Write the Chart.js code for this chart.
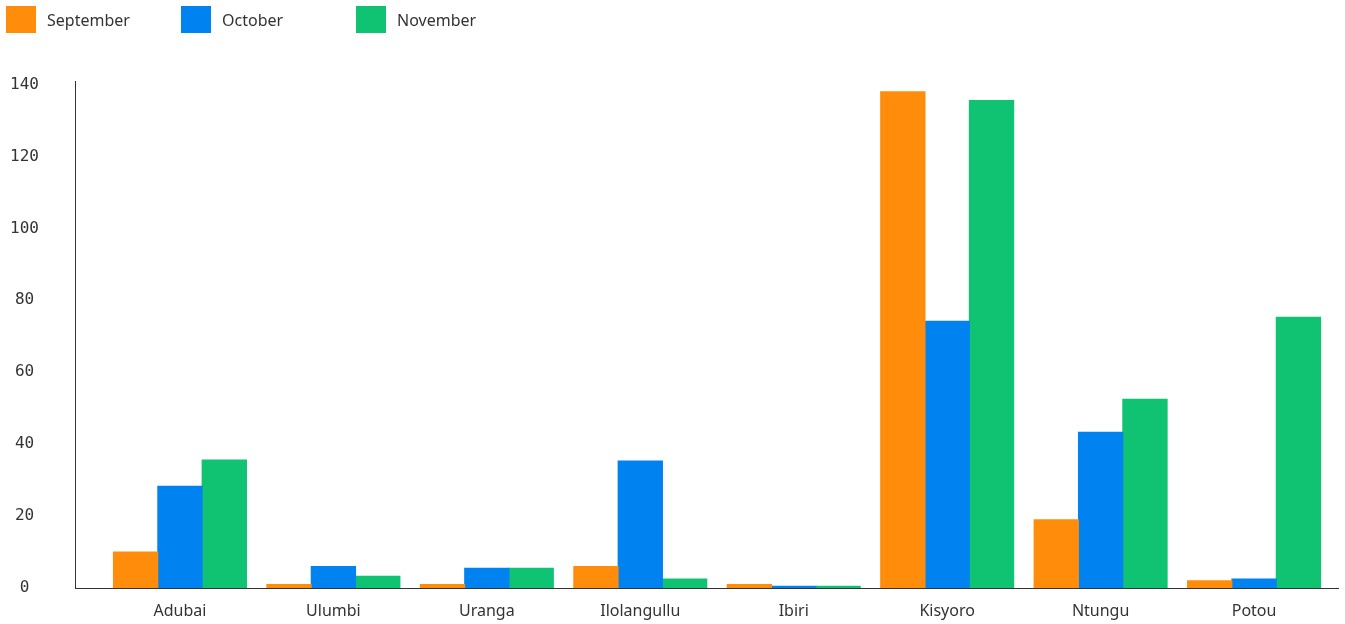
<!DOCTYPE html>
<html lang="en">
  <head>
    <meta charset="UTF-8" />
    <title>Monthly totals by site</title>
    <script src="https://cdn.jsdelivr.net/npm/chart.js"></script>
    <style>
      html, body {
        margin: 0;
        padding: 0;
        background: #fff;
        overflow: hidden;
      }
      .wrap {
        position: relative;
        width: 1345px;
        height: 624px;
      }
      canvas {
        display: block;
      }
      #legend {
        position: absolute;
        top: 6px;
        left: 6px;
        display: flex;
        font-family: "Noto Sans", sans-serif;
        font-size: 16px;
        color: #333;
      }
      .item {
        display: flex;
        align-items: center;
        width: 175px;
      }
      .swatch {
        width: 30px;
        height: 27px;
        margin-right: 11px;
      }
    </style>
  </head>
  <body>
    <div class="wrap">
      <canvas id="chart" width="1345" height="624"></canvas>
      <div id="legend"></div>
    </div>

    <script>
      const sites = ["Adubai", "Ulumbi", "Uranga", "Ilolangullu", "Ibiri", "Kisyoro", "Ntungu", "Potou"];
      const september = [10, 1, 1, 6, 1, 138, 19, 2];
      const october = [28.3, 6, 5.5, 35.3, 0.5, 74.2, 43.3, 2.5];
      const november = [35.6, 3.3, 5.5, 2.5, 0.5, 135.6, 52.5, 75.3];
      const yTicks = [0, 20, 40, 60, 80, 100, 120, 140];

      const series = [
        { label: "September", values: september, color: "#FF8C0A" },
        { label: "October", values: october, color: "#0082F0" },
        { label: "November", values: november, color: "#0FC373" },
      ];

      const chart = new Chart(document.getElementById("chart"), {
        type: "bar",
        data: {
          datasets: series.map((s) => ({
            label: s.label,
            data: s.values.map((v, i) => ({ x: i, y: v })),
            backgroundColor: s.color,
            borderWidth: 0,
            inflateAmount: 0.5,
            categoryPercentage: 0.867,
            barPercentage: 1,
          })),
        },
        options: {
          responsive: false,
          animation: false,
          layout: { padding: { top: 81, right: 7, left: 0, bottom: 0 } },
          plugins: { legend: { display: false }, tooltip: { enabled: false } },
          scales: {
            x: {
              type: "linear",
              offset: false,
              min: -0.684,
              max: 7.547,
              z: 1,
              grid: { display: false, offset: false },
              border: { display: true, color: "#333", width: 1 },
              afterBuildTicks: (s) => {
                s.ticks = sites.map((_, i) => ({ value: i }));
              },
              afterFit: (s) => {
                s.height = 36;
                s.paddingLeft = 0;
                s.paddingRight = 0;
              },
              ticks: {
                autoSkip: false,
                maxRotation: 0,
                padding: 6,
                color: "#333",
                font: { family: "Noto Sans", size: 16 },
                callback: (v) => sites[v],
              },
            },
            y: {
              min: 0,
              max: 141,
              grid: { display: false },
              border: { display: true, color: "#333", width: 1 },
              afterBuildTicks: (s) => {
                s.ticks = yTicks.map((v) => ({ value: v }));
              },
              afterFit: (s) => {
                s.width = 75;
                s.paddingTop = 0;
                s.paddingBottom = 0;
              },
              ticks: {
                crossAlign: "center",
                padding: 28,
                color: "#333",
                font: { family: "DejaVu Sans Mono", size: 16 },
              },
            },
          },
        },
      });

      // HTML legend, fixed-width items
      const legend = document.getElementById("legend");
      chart.data.datasets.forEach((ds) => {
        const item = document.createElement("div");
        item.className = "item";
        const sw = document.createElement("span");
        sw.className = "swatch";
        sw.style.background = ds.backgroundColor;
        const txt = document.createElement("span");
        txt.textContent = ds.label;
        item.appendChild(sw);
        item.appendChild(txt);
        legend.appendChild(item);
      });
    </script>
  </body>
</html>
